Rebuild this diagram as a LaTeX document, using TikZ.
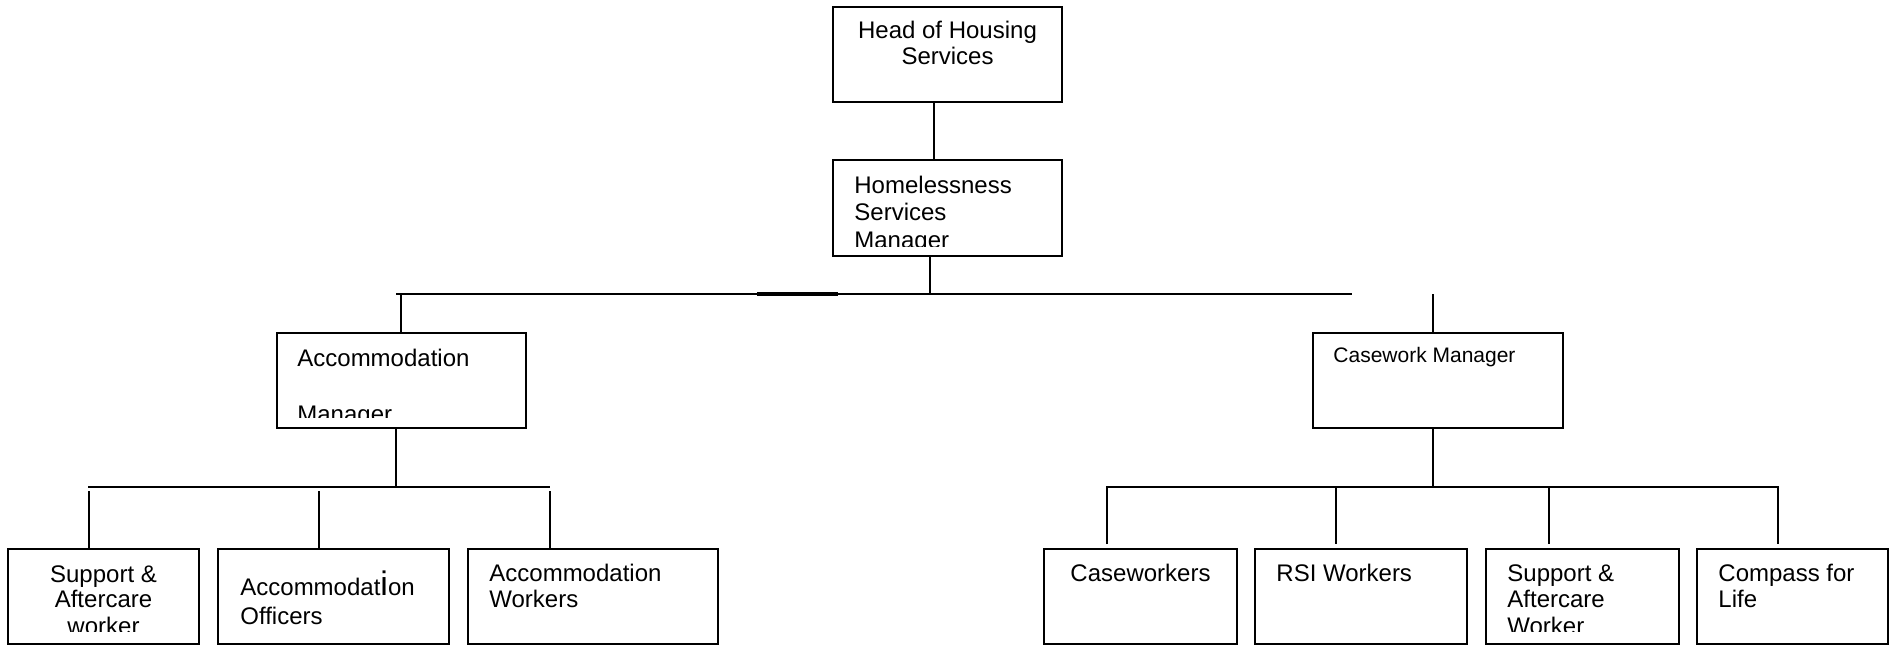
\documentclass[tikz,border=0pt]{standalone}
\usepackage{fontspec}
\setmainfont{Liberation Sans}
\newcommand\orgbox[5]{\node[box, minimum width={(#4-#2)*0.5pt}, minimum height={(#5-#3)*0.5pt}] (#1) at ({(#2+#4)/2},{(#3+#5)/2}) {};}
\begin{document}
\begin{tikzpicture}[x=0.5pt,y=-0.5pt,
  box/.style={draw, line width=1pt, inner sep=0pt, rectangle},
  conn/.style={line width=1pt},
  lbl/.style={inner sep=0pt, font=\fontsize{12pt}{13.8pt}\selectfont},
  slbl/.style={inner sep=0pt, font=\fontsize{10.5pt}{12pt}\selectfont}]
\useasboundingbox (0,0) rectangle (1893,647);
% boxes
\orgbox{head}{833}{7}{1062}{102}
\orgbox{hsm}{833}{160}{1062}{256}
\orgbox{accm}{277}{333}{526}{428}
\orgbox{casem}{1313}{333}{1563}{428}
\orgbox{sup1}{8}{549}{199}{644}
\orgbox{acco}{218}{549}{449}{644}
\orgbox{accw}{468}{549}{718}{644}
\orgbox{casew}{1044}{549}{1237}{644}
\orgbox{rsi}{1255}{549}{1467}{644}
\orgbox{sup2}{1486}{549}{1679}{644}
\orgbox{comp}{1697}{549}{1888}{644}
% texts
\node[lbl, anchor=base] (t1) at (947.5,39) {Head of Housing};
\node[lbl, anchor=base] (t2) at (947.5,65) {Services};
\begin{scope}
\clip (833,160) rectangle (1062,246);
\node[lbl, anchor=base west] (t3) at (854,193) {Homelessness};
\node[lbl, anchor=base west] (t4) at (854,220) {Services};
\node[lbl, anchor=base west] (t5) at (854,248) {Manager};
\end{scope}
\begin{scope}
\clip (277,333) rectangle (526,417);
\node[lbl, anchor=base west] (t6) at (297,366) {Accommodation};
\node[lbl, anchor=base west] (t7) at (297,422) {Manager};
\end{scope}
\node[slbl, anchor=base west] (t8) at (1333,362) {Casework Manager};
\begin{scope}
\clip (8,549) rectangle (199,631);
\node[lbl, anchor=base] (t9) at (103.5,582) {Support \&};
\node[lbl, anchor=base] (t10) at (103.5,607) {Aftercare};
\node[lbl, anchor=base] (t11) at (103.5,634) {worker};
\end{scope}
\node[lbl, anchor=base west] (t12) at (240,595) {Accommodat{\fontsize{17pt}{17pt}\selectfont i}on};
\node[lbl, anchor=base west] (t13) at (240,624) {Officers};
\node[lbl, anchor=base west] (t14) at (489,581) {Accommodation};
\node[lbl, anchor=base west] (t15) at (489,607) {Workers};
\node[lbl, anchor=base] (t16) at (1140.5,581) {Caseworkers};
\node[lbl, anchor=base west] (t17) at (1276,581) {RSI Workers};
\begin{scope}
\clip (1486,549) rectangle (1679,631);
\node[lbl, anchor=base west] (t18) at (1507,581) {Support \&};
\node[lbl, anchor=base west] (t19) at (1507,607) {Aftercare};
\node[lbl, anchor=base west] (t20) at (1507,634) {Worker};
\end{scope}
\node[lbl, anchor=base west] (t21) at (1718,581) {Compass for};
\node[lbl, anchor=base west] (t22) at (1718,607) {Life};
% connector coordinates
\coordinate (xa) at (934,0);
\coordinate (xb) at (930,0);
\coordinate (bus1) at (0,294);
\coordinate (bL) at (396,294);
\coordinate (bR) at (1352,294);
\coordinate (thA) at (757,294);
\coordinate (thB) at (838,294);
\coordinate (xc) at (401,0);
\coordinate (xd) at (1433,294);
\coordinate (xe) at (396,487);
\coordinate (b2L) at (88,487);
\coordinate (b2R) at (550,487);
\coordinate (d1) at (89,491);
\coordinate (d2) at (319,491);
\coordinate (d3) at (550,491);
\coordinate (xf) at (1433,487);
\coordinate (b3L) at (1107,487);
\coordinate (b3R) at (1778,487);
\coordinate (e1) at (1107,544);
\coordinate (e2) at (1336,544);
\coordinate (e3) at (1549,544);
\coordinate (e4) at (1778,544);
% connectors
\draw[conn] (head.south -| xa) -- (hsm.north -| xa);
\draw[conn] (hsm.south -| xb) -- (bus1 -| xb);
\draw[conn] (bL) -- (bR);
\draw[line width=1.7pt] (thA) -- (thB);
\draw[conn] (bus1 -| xc) -- (accm.north -| xc);
\draw[conn] (xd) -- (casem.north -| xd);
\draw[conn] (accm.south -| xe) -- (xe);
\draw[conn] (b2L) -- (b2R);
\draw[conn] (d1) -- (sup1.north -| d1);
\draw[conn] (d2) -- (acco.north -| d2);
\draw[conn] (d3) -- (accw.north -| d3);
\draw[conn] (casem.south -| xf) -- (xf);
\draw[conn] (e1) -- (b3L) -- (b3R) -- (e4);
\draw[conn] (e2 |- b3L) -- (e2);
\draw[conn] (e3 |- b3L) -- (e3);
\end{tikzpicture}
\end{document}
